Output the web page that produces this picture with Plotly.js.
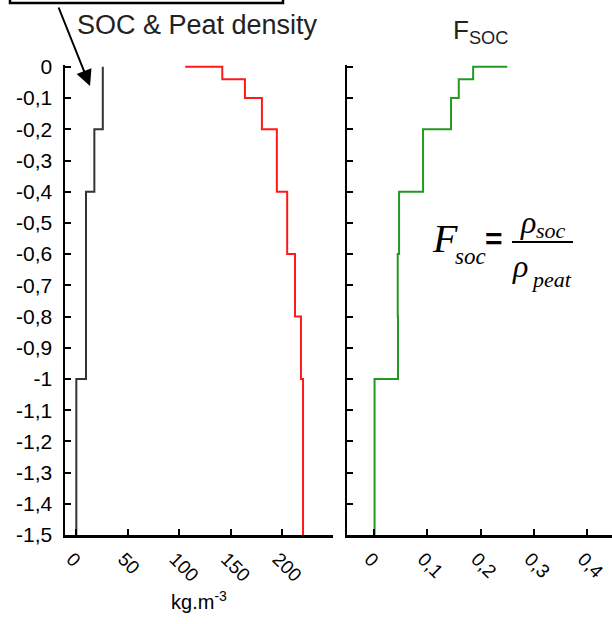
<!DOCTYPE html>
<html><head><meta charset="utf-8">
<script src="https://cdn.plot.ly/plotly-3.0.1.min.js"></script>
<style>html,body{margin:0;padding:0;background:#fff}#chart{width:612px;height:624px}</style>
</head><body><div id="chart"></div>
<script>
// Depth of each step vertex (m); each value holds from its depth down to the next one
const depth = [0, 0, -0.04, -0.1, -0.2, -0.4, -0.6, -0.8, -1.0, -1.5];
// SOC density (kg.m-3)
const socDensity = [26, 26, 26, 26, 17.8, 9.7, 9.7, 9.7, 0.3, 0.3];
// Peat density (kg.m-3)
const peatDensity = [106, 142, 164, 180.5, 195, 205, 212.6, 218.4, 220.4, 220.4];
// F_soc = rho_soc / rho_peat
const fSoc = [0.25, 0.186, 0.159, 0.1445, 0.092, 0.047, 0.0445, 0.045, 0.001, 0.001];

const yTickVals = [0,-0.1,-0.2,-0.3,-0.4,-0.5,-0.6,-0.7,-0.8,-0.9,-1,-1.1,-1.2,-1.3,-1.4,-1.5];
const yTickText = ["0","-0,1","-0,2","-0,3","-0,4","-0,5","-0,6","-0,7","-0,8","-0,9","-1","-1,1","-1,2","-1,3","-1,4","-1,5"];
const x1TickVals = [0, 50, 100, 150, 200];
const x1TickText = ["0", "50", "100", "150", "200"];
const x2TickVals = [0, 0.1, 0.2, 0.3, 0.4];
const x2TickText = ["0", "0,1", "0,2", "0,3", "0,4"];

const W = 612, H = 624;
const px = v => v / W, py = v => 1 - v / H;
const SANS = "Liberation Sans, Arial, Helvetica, sans-serif";
const SERIF = "Liberation Serif, Times New Roman, serif";

const traces = [
  {x: socDensity, y: depth, xaxis: 'x', yaxis: 'y', mode: 'lines', line: {shape: 'vh', color: '#333333', width: 2}, name: 'SOC density'},
  {x: peatDensity, y: depth, xaxis: 'x', yaxis: 'y', mode: 'lines', line: {shape: 'vh', color: '#ff1a1a', width: 2}, name: 'Peat density'},
  {x: fSoc, y: depth, xaxis: 'x2', yaxis: 'y2', mode: 'lines', line: {shape: 'vh', color: '#229922', width: 2}, name: 'F_soc'}
];

const axCommon = {showgrid: false, zeroline: false, showline: true, linecolor: '#000', linewidth: 2.5,
  ticks: 'inside', ticklen: 6, tickwidth: 2, tickcolor: '#000', automargin: false, fixedrange: true};

const layout = {
  width: W, height: H,
  margin: {l: 0, r: 0, t: 0, b: 0},
  paper_bgcolor: '#fff', plot_bgcolor: '#fff',
  showlegend: false,
  font: {family: SANS, color: '#000'},
  title: {text: 'SOC & Peat density', x: px(197), y: py(25), xanchor: 'center', yanchor: 'middle',
          xref: 'paper', yref: 'paper', font: {family: SANS, size: 27, color: '#222'}},
  xaxis: Object.assign({}, axCommon, {domain: [px(65), px(333)], range: [-10.7, 249.5], anchor: 'y',
    tickmode: 'array', tickvals: x1TickVals, ticktext: x1TickText, tickangle: 45,
    ticklabelshift: -4, ticklabelstandoff: 3,
    tickfont: {family: SANS, size: 19, color: '#000'},
    title: {text: 'kg.m<sup>-3</sup>', font: {family: SANS, size: 20, color: '#000'}}}),
  yaxis: Object.assign({}, axCommon, {domain: [py(535), py(65)], range: [-1.5, 0.006], anchor: 'x',
    tickmode: 'array', tickvals: yTickVals, ticktext: yTickText, ticklabelstandoff: 6,
    tickfont: {family: SANS, size: 21, color: '#000'}}),
  xaxis2: Object.assign({}, axCommon, {domain: [px(347), 1], range: [-0.0507, 0.4465], anchor: 'y2',
    tickmode: 'array', tickvals: x2TickVals, ticktext: x2TickText, tickangle: 45,
    ticklabelshift: -4, ticklabelstandoff: 3,
    tickfont: {family: SANS, size: 19, color: '#000'}}),
  yaxis2: Object.assign({}, axCommon, {domain: [py(535), py(65)], range: [-1.5, 0.006], anchor: 'x2',
    tickmode: 'array', tickvals: yTickVals, showticklabels: false}),
  shapes: [
    {type: 'rect', xref: 'paper', yref: 'paper', x0: px(10), x1: px(283), y0: py(3), y1: py(-30),
     line: {color: '#000', width: 2.5}, fillcolor: 'rgba(0,0,0,0)'},
    {type: 'line', xref: 'paper', yref: 'paper', x0: px(512), x1: px(573), y0: py(242), y1: py(242),
     line: {color: '#000', width: 2}}
  ],
  annotations: [
    {xref: 'paper', yref: 'paper', x: px(90), y: py(86), ax: -32, ay: -80, text: '', showarrow: true,
     arrowhead: 2, arrowsize: 1.6, arrowwidth: 2, arrowcolor: '#000'},
    {xref: 'paper', yref: 'paper', x: px(480), y: py(31), xanchor: 'center', yanchor: 'middle', showarrow: false,
     text: 'F<sub>SOC</sub>', font: {family: SANS, size: 26, color: '#222'}},
    {xref: 'paper', yref: 'paper', x: px(445), y: py(239), xanchor: 'center', yanchor: 'middle', showarrow: false,
     text: '<i>F</i>', font: {family: SERIF, size: 40, color: '#000'}},
    {xref: 'paper', yref: 'paper', x: px(470), y: py(256), xanchor: 'center', yanchor: 'middle', showarrow: false,
     text: '<i>soc</i>', font: {family: SERIF, size: 23, color: '#000'}},
    {xref: 'paper', yref: 'paper', x: px(494), y: py(238), xanchor: 'center', yanchor: 'middle', showarrow: false,
     text: '<b>=</b>', font: {family: SANS, size: 30, color: '#000'}},
    {xref: 'paper', yref: 'paper', x: px(528), y: py(222), xanchor: 'center', yanchor: 'middle', showarrow: false,
     text: '<i>ρ</i>', font: {family: SERIF, size: 32, color: '#000'}},
    {xref: 'paper', yref: 'paper', x: px(551), y: py(230), xanchor: 'center', yanchor: 'middle', showarrow: false,
     text: '<i>soc</i>', font: {family: SERIF, size: 22, color: '#000'}},
    {xref: 'paper', yref: 'paper', x: px(520), y: py(266), xanchor: 'center', yanchor: 'middle', showarrow: false,
     text: '<i>ρ</i>', font: {family: SERIF, size: 32, color: '#000'}},
    {xref: 'paper', yref: 'paper', x: px(551), y: py(279), xanchor: 'center', yanchor: 'middle', showarrow: false,
     text: '<i>peat</i>', font: {family: SERIF, size: 22, color: '#000'}}
  ]
};

Plotly.newPlot('chart', traces, layout, {staticPlot: true, displayModeBar: false});
</script>
</body></html>
